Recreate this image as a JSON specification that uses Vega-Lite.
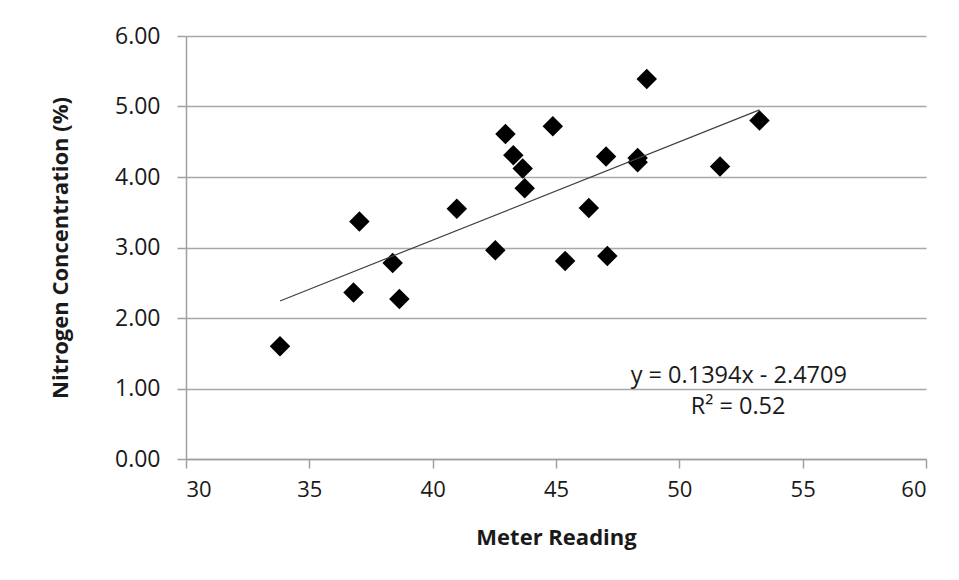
{
  "$schema": "https://vega.github.io/schema/vega-lite/v6.json",
  "autosize": "none",
  "width": 740,
  "height": 423,
  "padding": {"left": 186, "top": 36, "right": 33, "bottom": 121},
  "background": "white",
  "config": {
    "view": {"stroke": null},
    "font": "Open Sans"
  },
  "datasets": {
    "points": [
      {"meter": 33.81, "n": 1.60},
      {"meter": 36.79, "n": 2.36},
      {"meter": 37.03, "n": 3.37},
      {"meter": 38.38, "n": 2.78},
      {"meter": 38.65, "n": 2.27},
      {"meter": 40.98, "n": 3.55},
      {"meter": 42.54, "n": 2.96},
      {"meter": 42.95, "n": 4.61},
      {"meter": 43.27, "n": 4.31},
      {"meter": 43.65, "n": 4.12},
      {"meter": 43.73, "n": 3.84},
      {"meter": 44.87, "n": 4.72},
      {"meter": 45.37, "n": 2.81},
      {"meter": 46.33, "n": 3.56},
      {"meter": 47.03, "n": 4.29},
      {"meter": 47.08, "n": 2.88},
      {"meter": 48.31, "n": 4.27},
      {"meter": 48.31, "n": 4.21},
      {"meter": 48.68, "n": 5.39},
      {"meter": 51.65, "n": 4.15},
      {"meter": 53.25, "n": 4.80}
    ],
    "trend": [
      {"meter": 33.81, "n": 2.242},
      {"meter": 53.25, "n": 4.952}
    ],
    "labels": [
      {"meter": 52.41, "n": 1.18, "text": "y = 0.1394x - 2.4709"},
      {"meter": 52.38, "n": 0.74, "text": "R² = 0.52"}
    ]
  },
  "layer": [
    {
      "data": {"name": "points"},
      "mark": {"type": "point", "shape": "diamond", "filled": true, "color": "black", "size": 420, "opacity": 1},
      "encoding": {
        "x": {
          "field": "meter", "type": "quantitative",
          "scale": {"domain": [30, 60], "nice": false, "zero": false},
          "axis": {
            "title": "Meter Reading",
            "values": [30, 35, 40, 45, 50, 55, 60],
            "grid": false,
            "domainColor": "#a0a0a0",
            "domainWidth": 1.5,
            "tickColor": "#a0a0a0",
            "tickSize": 9,
            "tickWidth": 1.5,
            "labelFont": "Open Sans",
            "labelFontSize": 22,
            "labelColor": "#1a1a1a",
            "labelPadding": 11,
            "titleFont": "Open Sans",
            "titleFontSize": 22,
            "titleFontWeight": "bold",
            "titleColor": "#1a1a1a",
            "titlePadding": 27
          }
        },
        "y": {
          "field": "n", "type": "quantitative",
          "scale": {"domain": [0, 6], "nice": false},
          "axis": {
            "title": "Nitrogen Concentration (%)",
            "values": [0, 1, 2, 3, 4, 5, 6],
            "format": ".2f",
            "grid": true,
            "gridColor": "#a8a8a8",
            "gridWidth": 1.5,
            "domainColor": "#a0a0a0",
            "domainWidth": 1.5,
            "tickColor": "#a0a0a0",
            "tickSize": 9,
            "tickWidth": 1.5,
            "labelFont": "Open Sans",
            "labelFontSize": 23,
            "labelColor": "#1a1a1a",
            "labelPadding": 17,
            "titleFont": "Open Sans",
            "titleFontSize": 22,
            "titleFontWeight": "bold",
            "titleColor": "#1a1a1a",
            "titlePadding": 42
          }
        }
      }
    },
    {
      "data": {"name": "trend"},
      "mark": {"type": "line", "color": "#404040", "strokeWidth": 1.2},
      "encoding": {
        "x": {"field": "meter", "type": "quantitative"},
        "y": {"field": "n", "type": "quantitative"}
      }
    },
    {
      "data": {"name": "labels"},
      "mark": {"type": "text", "font": "Open Sans", "fontSize": 23.5, "color": "#1a1a1a", "align": "center", "baseline": "middle"},
      "encoding": {
        "x": {"field": "meter", "type": "quantitative"},
        "y": {"field": "n", "type": "quantitative"},
        "text": {"field": "text"}
      }
    }
  ]
}
